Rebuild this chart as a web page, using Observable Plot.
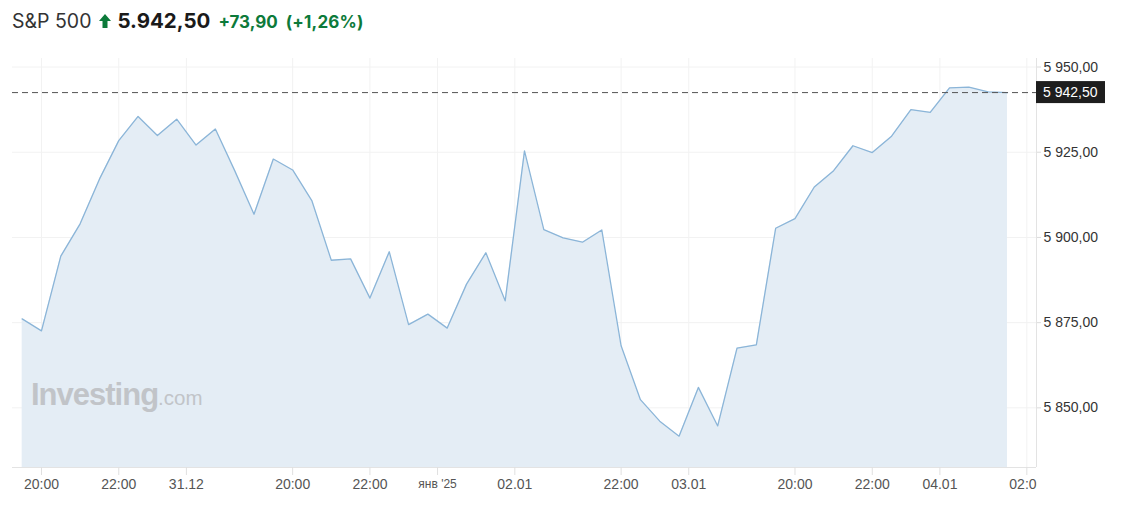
<!DOCTYPE html>
<html>
<head>
<meta charset="utf-8">
<script src="https://cdn.jsdelivr.net/npm/d3@7"></script>
<script src="https://cdn.jsdelivr.net/npm/@observablehq/plot@0.6"></script>
<style>
  html, body { margin: 0; padding: 0; background: #fff; }
  body { width: 1125px; height: 505px; position: relative; overflow: hidden; font-family: "Liberation Sans", Arial, sans-serif; }
  #title { position: absolute; left: 12px; top: 8px; height: 30px; display: flex; align-items: baseline; font-family: Inter, "Liberation Sans", sans-serif; white-space: nowrap; }
  #title .name { font-size: 19.5px; color: #333; letter-spacing: 0px; }
  #title .arrow { display: inline-block; width: 12px; height: 14px; margin: 0 6px 0 8px; }
  #title .price { font-size: 20.5px; font-weight: 700; color: #1a1a1a; }
  #title .chg { font-size: 17px; font-weight: 700; color: #0c7a3a; margin-left: 8px; }
  #title .pct { font-size: 17px; font-weight: 700; color: #0c7a3a; margin-left: 8px; letter-spacing: 0.2px; }
  #chart { position: absolute; left: 0; top: 45px; }
  #wm { position: absolute; left: 31px; top: 377px; font-family: "Liberation Sans", Arial, sans-serif; color: #c1c4c8; white-space: nowrap; pointer-events: none; }
  #wm .b { font-size: 31px; font-weight: 700; letter-spacing: -1px; }
  #wm .c { font-size: 20.5px; font-weight: 400; }
</style>
</head>
<body>
<div id="title">
  <span class="name">S&amp;P 500</span>
  <svg class="arrow" viewBox="0 0 12 14"><path d="M6 0 L12 7 L8.5 7 L8.5 14 L3.5 14 L3.5 7 L0 7 Z" fill="#0c7a3a"/></svg>
  <span class="price">5.942,50</span>
  <span class="chg">+73,90</span>
  <span class="pct">(+1,26%)</span>
</div>
<div id="chart"></div>
<div id="wm"><span class="b">Investing</span><span class="c">.com</span></div>
<script>
// Values (half-hour steps, sessions concatenated)
const values = [5876.1, 5872.6, 5894.5, 5904.0, 5917.1, 5928.4, 5935.5, 5929.9, 5934.7, 5927.1,
  5931.8, 5919.6, 5906.8, 5923.0, 5919.8, 5910.7, 5893.3, 5893.7, 5882.2, 5895.8,
  5874.4, 5877.5, 5873.4, 5886.3, 5895.5, 5881.4, 5925.4, 5902.3, 5899.9, 5898.6,
  5902.2, 5868.2, 5852.4, 5846.1, 5841.7, 5856.0, 5844.7, 5867.5, 5868.5, 5902.7,
  5905.5, 5914.8, 5919.6, 5926.9, 5924.9, 5929.7, 5937.5, 5936.7, 5943.9, 5944.1,
  5942.7, 5942.5];
const tickPositions = [1, 5, 8.5, 14, 18, 21.5, 25.5, 31, 34.5, 40, 44, 47.5, 52];
const tickLabels = ["20:00", "22:00", "31.12", "20:00", "22:00", "янв '25", "02.01", "22:00", "03.01", "20:00", "22:00", "04.01", "02:00"];
const yTicks = [5850, 5875, 5900, 5925, 5950];
const lastValue = 5942.5;
const yDomain = [5832.5, 5952.5];
const xDomain = [-0.5, 52.5];

const data = values.map((v, i) => ({i, v}));
const labelMap = new Map(tickPositions.map((p, k) => [p, tickLabels[k]]));
const loc = d3.formatLocale({decimal: ",", thousands: "\u00a0", grouping: [3], currency: ["", ""]});
const fmt = loc.format(",.2f");

const plot = Plot.plot({
  width: 1125,
  height: 460,
  marginLeft: 12,
  marginRight: 89,
  marginTop: 13,
  marginBottom: 38,
  style: {fontFamily: "'Liberation Sans', Arial, sans-serif", background: "#fff"},
  x: {domain: xDomain, axis: null, label: null},
  y: {domain: yDomain, axis: null, label: null},
  marks: [
    Plot.ruleY(yTicks, {stroke: "#f2f2f2", strokeWidth: 1}),
    Plot.ruleX(tickPositions, {stroke: "#f2f2f2", strokeWidth: 1}),
    Plot.areaY(data, {x: "i", y1: yDomain[0], y2: "v", fill: "#e4edf5"}),
    Plot.lineY(data, {x: "i", y: "v", stroke: "#8bb5d8", strokeWidth: 1.3}),
    Plot.ruleY([yDomain[0]], {stroke: "#e3e3e3"}),
    Plot.ruleX([xDomain[1]], {stroke: "#e3e3e3"}),
    Plot.ruleY([lastValue], {stroke: "#555", strokeDasharray: "6,4", strokeWidth: 1}),
    Plot.axisX({ticks: tickPositions, tickFormat: d => labelMap.get(d), tickSize: 8, tickPadding: 4, stroke: "#e0e0e0", fill: "#555", fontSize: 14, anchor: "bottom", label: null}),
    Plot.axisY({ticks: yTicks, tickFormat: fmt, anchor: "right", tickSize: 4, tickPadding: 3, stroke: "#dcdcdc", fill: "#333", fontSize: 14, label: null})
  ]
});
document.getElementById("chart").appendChild(plot);

// Post-processing: clip x labels at plot edge, smaller month label, last-price badge
const svg = d3.select(plot);
const xs = plot.scale("x"), ys = plot.scale("y");
const rightEdge = xs.apply(xDomain[1]);
const defs = svg.append("defs");
defs.append("clipPath").attr("id", "xclip").append("rect")
  .attr("x", 0).attr("y", 0).attr("width", rightEdge).attr("height", 460);
svg.selectAll('g[aria-label="x-axis tick label"]').attr("clip-path", "url(#xclip)");
svg.selectAll('g[aria-label="x-axis tick label"] text').each(function() {
  if (this.textContent === "янв '25") d3.select(this).attr("font-size", 12);
});
const yl = ys.apply(lastValue);
const badge = svg.append("g").attr("text-anchor", "start");
badge.append("rect").attr("x", rightEdge).attr("y", yl - 11).attr("width", 69).attr("height", 22).attr("fill", "#1e1e1e");
badge.append("text").attr("x", rightEdge + 7).attr("y", yl).attr("dy", "0.35em")
  .attr("text-anchor", "start").attr("fill", "#fff").attr("font-size", 14).text(fmt(lastValue));
</script>
</body>
</html>
